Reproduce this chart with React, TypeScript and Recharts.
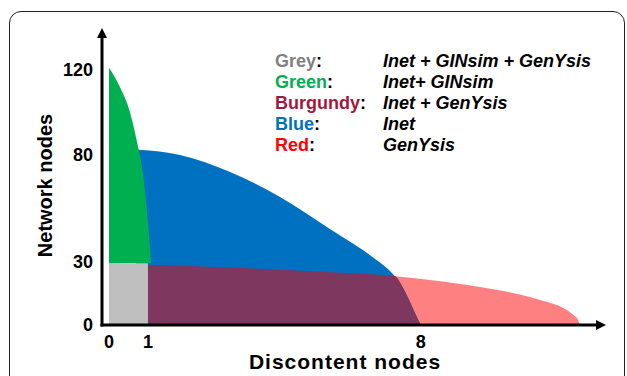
import React from 'react'
import { Area, ComposedChart, XAxis, YAxis } from 'recharts'

// tick values on both axes
const xTicks = [0, 1, 8]
const yTicks = [0, 30, 80, 120]

// region outlines (x = discontent nodes, y = network nodes)
const greyX = [0, 1]
const greyY = [29, 29]

const greenX = [0, 0.28, 0.54, 0.72, 0.88, 0.97, 1.05, 1.08]
const greenY = [121, 112, 100, 86, 70, 54, 37, 29]

const blueX = [0.7, 0.77, 1.82, 3.11, 4.39, 5.67, 6.32, 6.83, 7.16, 7.34, 7.52, 7.68, 7.83, 8]
const blueY = [82.5, 82.4, 80, 72, 60.2, 45.2, 37.6, 31.1, 26.4, 22.9, 18.4, 12.7, 6.6, 0]

const burgundyX = [1, 3.11, 5.67, 7.34, 7.52, 7.68, 7.83, 8]
const burgundyY = [28.3, 27, 24.8, 22.9, 18.4, 12.7, 6.6, 0]

const redX = [0, 1.13, 3.11, 5.67, 7.34, 8.24, 9.52, 10.8, 11.2, 11.66, 11.9, 12.05, 12.09]
const redY = [29, 28.2, 27, 24.8, 22.9, 21.2, 17.9, 13.2, 11, 8, 5, 2, 0]

const legendNames = ['Grey', 'Green', 'Burgundy', 'Blue', 'Red']
const legendColors = ['#808080', '#00b050', '#a3173c', '#0070c0', '#ff0000']
const legendTools = ['Inet + GINsim + GenYsis', 'Inet+ GINsim', 'Inet + GenYsis', 'Inet', 'GenYsis']

const toRows = (xs: number[], ys: number[]) => xs.map((x, i) => ({ x, y: ys[i] }))

const FONT = '"Liberation Sans", Arial, Helvetica, sans-serif'

export default function App() {
  const axisLine = {
    stroke: '#000',
    strokeWidth: 3,
    strokeLinecap: 'square' as const,
  }
  const tickStyle = { fill: '#000', fontSize: 18, fontWeight: 700, fontFamily: FONT }

  return (
    <div style={{ position: 'absolute', left: 0, top: 0, width: 627, height: 376, overflow: 'hidden', background: '#fff' }}>
      <div
        style={{
          position: 'absolute',
          left: 9,
          top: 11,
          width: 616,
          height: 420,
          border: '1.5px solid #231f20',
          borderRadius: 12,
          boxSizing: 'border-box',
        }}
      />
      <div style={{ position: 'absolute', left: 0, top: 0 }}>
        <ComposedChart width={627} height={376} margin={{ top: 38, right: 31, left: 0, bottom: 0 }}>
          <defs>
            <marker
              id="arrowHead"
              viewBox="0 0 10 10"
              refX={0}
              refY={5}
              markerWidth={11}
              markerHeight={10}
              markerUnits="userSpaceOnUse"
              orient="auto-start-reverse"
            >
              <path d="M0,0 L10,5 L0,10 z" fill="#000" />
            </marker>
          </defs>
          <XAxis
            type="number"
            dataKey="x"
            domain={[0, 12.5]}
            ticks={xTicks}
            allowDataOverflow
            padding={{ left: 7, right: 0 }}
            height={51}
            tickLine={false}
            tickMargin={4}
            tick={tickStyle}
            axisLine={{ ...axisLine, markerEnd: 'url(#arrowHead)' }}
            label={{
              value: 'Discontent nodes',
              position: 'insideBottom',
              offset: 7,
              dx: -4,
              fill: '#000',
              fontSize: 21,
              fontWeight: 700,
              letterSpacing: 1,
              fontFamily: FONT,
            }}
          />
          <YAxis
            type="number"
            domain={[0, 135]}
            ticks={yTicks}
            width={102}
            tickLine={false}
            tickMargin={3}
            tick={tickStyle}
            axisLine={{ ...axisLine, markerStart: 'url(#arrowHead)' }}
            label={{
              value: 'Network nodes',
              angle: -90,
              position: 'center',
              dx: -6,
              dy: 4,
              fill: '#000',
              fontSize: 20,
              fontWeight: 700,
              fontFamily: FONT,
            }}
          />
          <Area
            data={toRows(redX, redY)}
            dataKey="y"
            type="monotone"
            fill="#ff8080"
            fillOpacity={1}
            stroke="none"
            isAnimationActive={false}
          />
          <Area
            data={toRows(blueX, blueY)}
            dataKey="y"
            type="monotone"
            fill="#0070c0"
            fillOpacity={1}
            stroke="none"
            isAnimationActive={false}
          />
          <Area
            data={toRows(burgundyX, burgundyY)}
            dataKey="y"
            type="monotone"
            fill="#7e375e"
            fillOpacity={1}
            stroke="none"
            isAnimationActive={false}
          />
          <Area
            data={toRows(greenX, greenY)}
            dataKey="y"
            type="monotone"
            baseValue={29}
            fill="#00b050"
            fillOpacity={1}
            stroke="none"
            isAnimationActive={false}
          />
          <Area
            data={toRows(greyX, greyY)}
            dataKey="y"
            type="linear"
            fill="#bfbfbf"
            fillOpacity={1}
            stroke="none"
            isAnimationActive={false}
          />
        </ComposedChart>
      </div>
      <div
        style={{
          position: 'absolute',
          left: 275,
          top: 51,
          fontFamily: FONT,
          fontSize: 18,
          fontWeight: 700,
          lineHeight: '21px',
          whiteSpace: 'nowrap',
        }}
      >
        {legendNames.map((name, i) => (
          <div key={name} style={{ display: 'flex' }}>
            <span style={{ width: 108 }}>
              <span style={{ color: legendColors[i] }}>{name}</span>
              <span style={{ color: '#000' }}>:</span>
            </span>
            <span style={{ fontStyle: 'italic', color: '#000' }}>{legendTools[i]}</span>
          </div>
        ))}
      </div>
    </div>
  )
}
